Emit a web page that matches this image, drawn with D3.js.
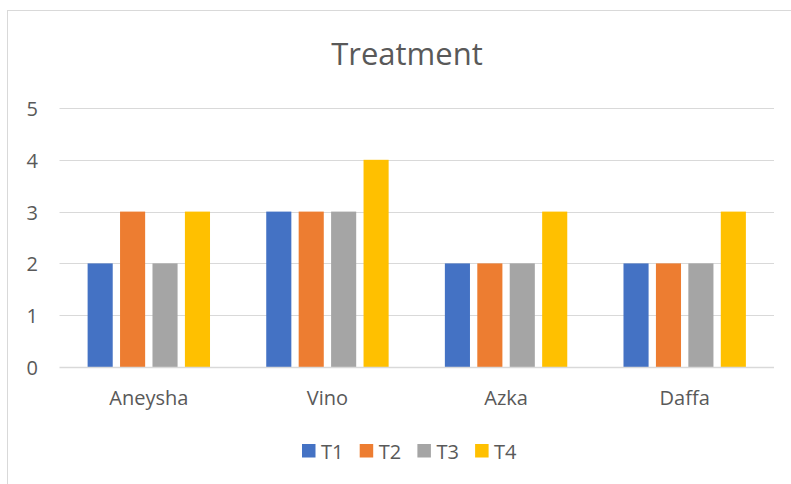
<!DOCTYPE html>
<html>
<head>
<meta charset="utf-8">
<script src="https://cdn.jsdelivr.net/npm/d3@7"></script>
<style>
  body { margin: 0; background: #fff; }
  text { font-family: "Open Sans", "Noto Sans", sans-serif; fill: #595959; }
</style>
</head>
<body>
<svg id="chart"></svg>
<script>
const width = 791;
const height = 484;

const names = ['Aneysha', 'Vino', 'Azka', 'Daffa'];
const series = ['T1', 'T2', 'T3', 'T4'];
const t1 = [2, 3, 2, 2];
const t2 = [3, 3, 2, 2];
const t3 = [2, 3, 2, 2];
const t4 = [3, 4, 3, 3];
const yTicks = [0, 1, 2, 3, 4, 5];
const colors = ['#4472C4', '#ED7D31', '#A5A5A5', '#FFC000'];

const values = [t1, t2, t3, t4];
const rows = names.map((n, i) => ({name: n, vals: series.map((s, j) => ({key: s, value: values[j][i]}))}));

const svg = d3.select('#chart')
    .attr('width', width)
    .attr('height', height);

// chart frame
svg.append('rect')
    .attr('x', 7.5).attr('y', 10.5)
    .attr('width', 800).attr('height', 500)
    .attr('fill', 'none')
    .attr('stroke', '#d9d9d9');

svg.append('text')
    .attr('x', 407).attr('y', 65)
    .attr('text-anchor', 'middle')
    .style('font-size', '31px')
    .text('Treatment');

const x = d3.scaleBand().domain(names).range([59.5, 774]);
const xInner = d3.scaleBand().domain(series).range([-61.2, 61.2]).paddingInner(0.226);
const y = d3.scaleLinear().domain([0, 5]).range([367, 108]);

// gridlines
svg.append('g').selectAll('line').data(yTicks.filter(d => d > 0))
    .join('line')
    .attr('x1', 59.5).attr('x2', 774)
    .attr('y1', d => Math.round(y(d)) + 0.5)
    .attr('y2', d => Math.round(y(d)) + 0.5)
    .attr('stroke', '#d9d9d9')
    .attr('stroke-width', 1);

svg.append('g').selectAll('text').data(yTicks)
    .join('text')
    .attr('x', 38).attr('y', d => y(d) + 8)
    .attr('text-anchor', 'end')
    .style('font-size', '20px')
    .text(d => d);

const groups = svg.append('g').selectAll('g').data(rows)
    .join('g')
    .attr('transform', d => `translate(${x(d.name) + x.bandwidth() / 2},0)`);

groups.selectAll('rect').data(d => d.vals)
    .join('rect')
    .attr('x', d => xInner(d.key))
    .attr('width', xInner.bandwidth())
    .attr('y', d => y(d.value))
    .attr('height', d => y(0) - y(d.value))
    .attr('fill', (d, i) => colors[i]);

// baseline
svg.append('line')
    .attr('x1', 59.5).attr('x2', 774)
    .attr('y1', 367.5).attr('y2', 367.5)
    .attr('stroke', '#d9d9d9')
    .attr('stroke-width', 1.5);

svg.append('g').selectAll('text').data(names)
    .join('text')
    .attr('x', d => x(d) + x.bandwidth() / 2)
    .attr('y', 405)
    .attr('text-anchor', 'middle')
    .style('font-size', '20px')
    .text(d => d);

// legend
const legend = svg.append('g').selectAll('g').data(series)
    .join('g')
    .attr('transform', (d, i) => `translate(${302 + i * 57.7},444)`);

legend.append('rect')
    .attr('width', 13.5).attr('height', 13.5)
    .attr('fill', (d, i) => colors[i]);

legend.append('text')
    .attr('x', 19).attr('y', 14.5)
    .style('font-size', '20px')
    .text(d => d);
</script>
</body>
</html>
